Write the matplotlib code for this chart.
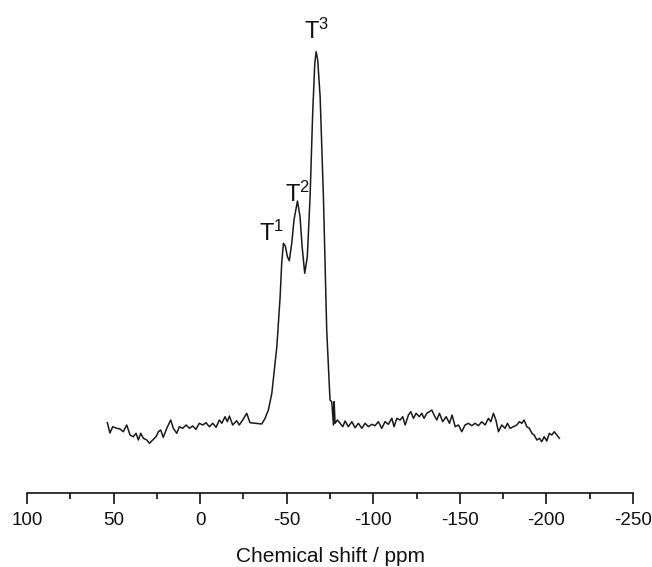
import matplotlib
matplotlib.use("Agg")
import matplotlib.pyplot as plt
from matplotlib.ticker import MultipleLocator

plt.rcParams['font.family'] = ['Liberation Sans', 'DejaVu Sans']
plt.rcParams['mathtext.default'] = 'regular'
plt.rcParams['axes.unicode_minus'] = False

# Chemical shift (ppm) and intensity (a.u.)
ppm = [53.6, 52.1, 50.5, 48.2, 46.3, 44.4, 42.4, 40.5, 38.6, 37.0,
       35.7, 34.3, 32.8, 30.8, 29.3, 27.4, 25.5, 24.1, 22.8, 21.3,
       19.3, 17.0, 15.5, 13.5, 12.0, 10.1, 8.1, 6.2, 4.3, 2.4,
       0.5, -1.5, -3.4, -5.3, -7.3, -9.2, -11.1, -12.5, -14.4, -15.7,
       -16.9, -18.8, -21.1, -22.6, -24.6, -26.9, -28.8, -31.7, -35.6, -37.5,
       -39.4, -41.4, -44.3, -46.2, -47.1, -48.1, -49.2, -50.4, -51.5, -52.9,
       -54.2, -56.2, -57.7, -58.9, -60.4, -61.9, -63.5, -65.0, -66.2, -67.0,
       -67.9, -69.3, -71.2, -73.1, -75.0, -76.0, -77.0, -77.4, -77.9, -79.3,
       -80.8, -82.4, -83.7, -85.6, -87.6, -89.5, -91.4, -93.4, -95.3, -97.2,
       -99.1, -101.0, -102.9, -104.9, -106.8, -108.7, -110.7, -112.0, -113.6, -115.5,
       -117.0, -118.4, -120.3, -121.7, -123.2, -124.7, -126.6, -128.0, -129.3, -130.9,
       -132.4, -133.8, -135.1, -136.7, -138.2, -140.1, -142.1, -144.0, -145.5, -147.3,
       -149.2, -151.1, -153.0, -154.9, -156.9, -158.8, -160.7, -162.7, -164.6, -166.5,
       -167.9, -169.4, -170.8, -172.3, -174.2, -176.1, -177.5, -179.0, -180.9, -182.9,
       -184.4, -185.8, -187.1, -188.7, -190.2, -191.6, -192.9, -194.5, -196.0, -197.3,
       -198.7, -200.2, -201.7, -203.1, -204.5, -206.0, -207.5]
intensity = [70.3, 60.0, 66.3, 64.7, 64.0, 61.3, 68.0, 58.0, 56.3, 59.7,
             53.0, 59.7, 54.7, 53.0, 49.7, 53.0, 56.3, 61.3, 63.0, 55.7,
             64.7, 73.0, 64.7, 59.7, 66.3, 64.7, 68.0, 64.7, 67.0, 63.7,
             69.7, 68.0, 70.3, 66.3, 69.7, 65.7, 73.0, 69.7, 76.3, 71.3,
             77.0, 68.0, 72.3, 68.0, 73.0, 79.7, 70.3, 69.7, 69.0, 74.7,
             83.0, 99.7, 146.3, 196.3, 229.7, 249.7, 247.0, 236.3, 232.3, 249.7,
             273.0, 292.0, 276.3, 246.3, 219.7, 236.3, 296.3, 379.7, 429.7, 441.3,
             433.0, 396.3, 296.3, 163.0, 93.0, 91.3, 68.0, 91.3, 69.7, 73.0,
             69.7, 66.3, 72.0, 66.3, 71.3, 65.3, 69.7, 64.7, 69.7, 66.3,
             68.7, 67.3, 71.3, 64.7, 71.3, 68.7, 74.7, 66.3, 74.7, 73.0,
             76.3, 68.0, 78.0, 81.3, 74.7, 79.7, 76.3, 79.7, 74.7, 79.7,
             81.3, 83.0, 78.0, 73.0, 79.7, 71.3, 76.3, 69.7, 78.0, 66.3,
             68.0, 61.3, 68.0, 69.7, 67.3, 69.7, 67.3, 71.3, 68.0, 74.7,
             71.3, 79.7, 73.0, 61.3, 68.0, 64.7, 69.7, 64.7, 66.3, 68.0,
             71.3, 69.7, 73.0, 66.3, 64.7, 59.7, 58.0, 53.0, 54.7, 51.3,
             56.3, 52.0, 59.7, 58.0, 61.3, 58.0, 54.7]

peak_labels = ['T$^1$', 'T$^2$', 'T$^3$']
peak_label_ppm = [-41.1, -56.4, -67.5]
peak_label_int = [252.0, 291.0, 454.0]

fig = plt.figure(figsize=(6.52, 5.67), dpi=100)
ax = fig.add_axes([27/652, 74/567, 606/652, 483/567])
ax.plot(ppm, intensity, color='#1a1a1a', lw=1.1, solid_joinstyle='round')

for lab, px, py in zip(peak_labels, peak_label_ppm, peak_label_int):
    ax.text(px, py, lab, ha='center', va='baseline', fontsize=17, color='#111111')

ax.set_xlim(100, -250)
ax.set_ylim(0, 483)
for s in ['top', 'left', 'right']:
    ax.spines[s].set_visible(False)
ax.spines['bottom'].set_linewidth(1.2)
ax.spines['bottom'].set_color('#111111')
ax.set_yticks([])
ax.xaxis.set_major_locator(MultipleLocator(50))
ax.xaxis.set_minor_locator(MultipleLocator(25))
ax.tick_params(axis='x', which='major', direction='out', length=8, width=1.2,
               labelsize=13.5, pad=6, colors='#111111')
ax.tick_params(axis='x', which='minor', direction='out', length=4, width=1.2,
               colors='#111111')
ax.set_xlabel('Chemical shift / ppm', fontsize=15, labelpad=13, color='#111111')

fig.savefig('out.png', dpi=100)
